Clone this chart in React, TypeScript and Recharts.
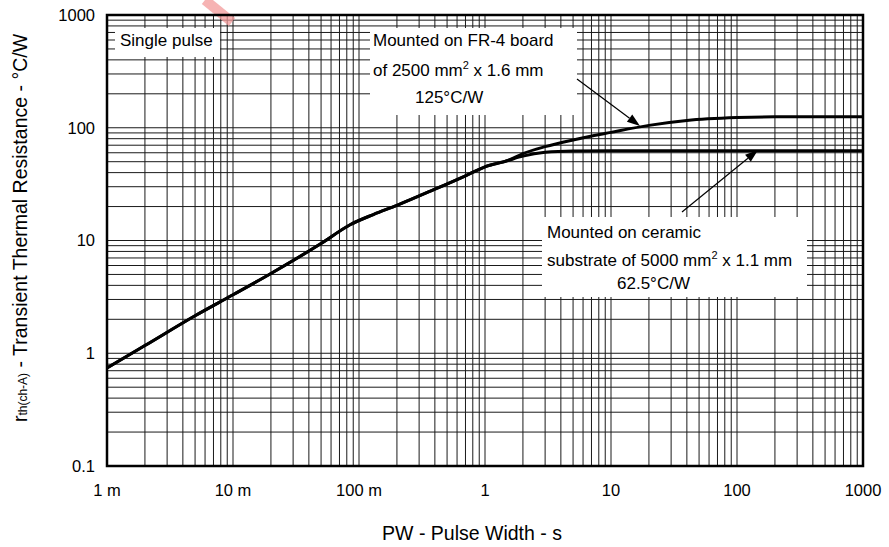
import { LineChart, Line, XAxis, YAxis, CartesianGrid } from 'recharts';

// pulse width (s) and transient thermal resistance (°C/W)
const pw = [0.001, 0.002, 0.005, 0.01, 0.02, 0.05, 0.085, 0.13, 0.2, 0.4, 0.7, 1, 1.5, 2, 3, 5, 10, 20, 40, 100, 200, 1000];
const fr4 = [0.74, 1.17, 2.15, 3.3, 5.1, 9.4, 13.8, 17.0, 20.5, 28.5, 37.5, 45, 51, 59, 68, 78, 91, 105, 116, 123, 125, 125];
const ceramic = [0.74, 1.17, 2.15, 3.3, 5.1, 9.4, 13.8, 17.0, 20.5, 28.5, 37.5, 45, 51, 56, 60.5, 62.2, 62.5, 62.5, 62.5, 62.5, 62.5, 62.5];

const majorX = [0.001, 0.01, 0.1, 1, 10, 100, 1000];
const xLabels = ['1 m', '10 m', '100 m', '1', '10', '100', '1000'];
const majorY = [0.1, 1, 10, 100, 1000];
const yLabels = ['0.1', '1', '10', '100', '1000'];

const steps = [1, 2, 3, 4, 5, 6, 7, 8, 9];
const gridTicks = (major: number[]) =>
  major.slice(0, -1).flatMap((d) => steps.map((k) => d * k)).concat(major[major.length - 1]);

const labelFor = (major: number[], labels: string[]) => (v: number) => {
  const i = major.findIndex((m) => Math.abs(m - v) / m < 1e-6);
  return i >= 0 ? labels[i] : '';
};

const data = pw.map((x, i) => ({ x, fr4: fr4[i], ceramic: ceramic[i] }));

const FONT = '"Liberation Sans", Arial, sans-serif';

const Arrow = ({ x1, y1, x2, y2 }: { x1: number; y1: number; x2: number; y2: number }) => {
  const a = Math.atan2(y2 - y1, x2 - x1);
  const len = 13;
  const w = 4.5;
  const bx = x2 - len * Math.cos(a);
  const by = y2 - len * Math.sin(a);
  const px = -Math.sin(a) * w;
  const py = Math.cos(a) * w;
  return (
    <g>
      <line x1={x1} y1={y1} x2={bx} y2={by} stroke="#000" strokeWidth={1.2} />
      <polygon points={`${x2},${y2} ${bx + px},${by + py} ${bx - px},${by - py}`} fill="#000" />
    </g>
  );
};

export default function App() {
  return (
    <div style={{ position: 'absolute', left: 0, top: 0, width: 889, height: 547, background: '#fff', fontFamily: FONT }}>
      <LineChart width={889} height={547} data={data} margin={{ top: 15, right: 26, bottom: 41, left: 27 }}>
        <CartesianGrid stroke="#1a1a1a" strokeWidth={1} />
        <XAxis
          dataKey="x"
          type="number"
          scale="log"
          domain={[0.001, 1000]}
          ticks={gridTicks(majorX)}
          interval={0}
          tickFormatter={labelFor(majorX, xLabels)}
          tickLine={false}
          axisLine={false}
          tickSize={0}
          tickMargin={18}
          height={40}
          allowDataOverflow
          tick={{ fill: '#000', fontSize: 16.5, fontFamily: FONT }}
        />
        <YAxis
          type="number"
          scale="log"
          domain={[0.1, 1000]}
          ticks={gridTicks(majorY)}
          interval={0}
          tickFormatter={labelFor(majorY, yLabels)}
          tickLine={false}
          axisLine={false}
          tickSize={0}
          tickMargin={12}
          width={80}
          allowDataOverflow
          tick={{ fill: '#000', fontSize: 16.5, fontFamily: FONT }}
        />
        <Line type="monotone" dataKey="ceramic" stroke="#000" strokeWidth={3} dot={false} isAnimationActive={false} />
        <Line type="monotone" dataKey="fr4" stroke="#000" strokeWidth={3} dot={false} isAnimationActive={false} />
      </LineChart>

      <svg width={889} height={547} style={{ position: 'absolute', left: 0, top: 0, pointerEvents: 'none' }} fontFamily={FONT}>
        {/* watermark fragment */}
        <line x1={205} y1={0} x2={232} y2={22} stroke="#f39a9a" strokeWidth={10} opacity={0.75} />

        <rect x={107} y={15} width={756} height={451} fill="none" stroke="#000" strokeWidth={2.5} />

        <rect x={115} y={28} width={105} height={29} fill="#fff" />
        <text x={120} y={46} fontSize={17}>Single pulse</text>

        <rect x={370} y={28} width={207} height={87} fill="#fff" />
        <text x={373} y={46} fontSize={17}>Mounted on FR-4 board</text>
        <text x={373} y={76} fontSize={17}>
          of 2500 mm<tspan dy={-7} fontSize={11}>2</tspan>
          <tspan dy={7}> x 1.6 mm</tspan>
        </text>
        <text x={415} y={103} fontSize={17}>125°C/W</text>

        <rect x={542} y={217} width={265} height={80} fill="#fff" />
        <text x={547} y={238} fontSize={17}>Mounted on ceramic</text>
        <text x={547} y={266} fontSize={17}>
          substrate of 5000 mm<tspan dy={-7} fontSize={11}>2</tspan>
          <tspan dy={7}> x 1.1 mm</tspan>
        </text>
        <text x={617} y={289} fontSize={17}>62.5°C/W</text>

        <Arrow x1={577} y1={79} x2={640} y2={126} />
        <Arrow x1={682} y1={212} x2={758} y2={150} />

        <text x={472} y={540} fontSize={19.5} textAnchor="middle">PW - Pulse Width - s</text>

        <text x={27} y={228} fontSize={19.5} textAnchor="middle" transform="rotate(-90 27 228)">
          r<tspan fontSize={12}>th(ch-A)</tspan> - Transient Thermal Resistance - °C/W
        </text>
      </svg>
    </div>
  );
}
